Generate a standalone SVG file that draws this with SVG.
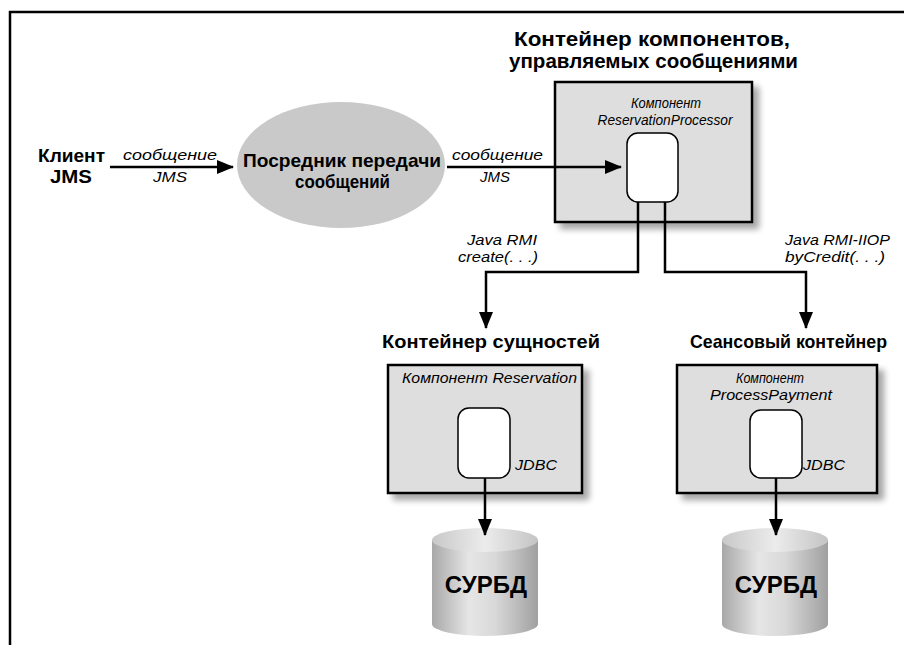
<svg xmlns="http://www.w3.org/2000/svg" width="904" height="645" viewBox="0 0 904 645">
<style>
.b{font-family:"Liberation Sans",Arial,sans-serif;font-weight:bold;font-size:19px;fill:#000}
.h{font-family:"Liberation Sans",Arial,sans-serif;font-weight:bold;font-size:20px;fill:#000}
.i{font-family:"Liberation Sans",Arial,sans-serif;font-style:italic;font-size:15px;fill:#000}
.db{font-family:"Liberation Sans",Arial,sans-serif;font-weight:bold;font-size:24px;fill:#000}
.box{fill:#dedede;stroke:#000;stroke-width:2.5}
.inner{fill:#fff;stroke:#000;stroke-width:1.5}
.ln{fill:none;stroke:#000;stroke-width:2.5}
.cyl{fill:url(#cg)}
.cyltop{fill:url(#ct)}
</style>
<defs>
<marker id="ah" markerUnits="userSpaceOnUse" markerWidth="17" markerHeight="14" refX="16" refY="7" orient="auto">
<path d="M0,0 L17,7 L0,14 z" fill="#000"/>
</marker>
<filter id="sh" x="-10%" y="-10%" width="130%" height="130%">
<feGaussianBlur in="SourceAlpha" stdDeviation="3"/>
<feOffset dx="6" dy="6" result="o"/>
<feComponentTransfer><feFuncA type="linear" slope="0.35"/></feComponentTransfer>
<feMerge><feMergeNode/><feMergeNode in="SourceGraphic"/></feMerge>
</filter>
<linearGradient id="cg" x1="0" y1="0" x2="1" y2="0">
<stop offset="0" stop-color="#a8a8a8"/>
<stop offset="0.35" stop-color="#e6e6e6"/>
<stop offset="0.6" stop-color="#d8d8d8"/>
<stop offset="1" stop-color="#a0a0a0"/>
</linearGradient>
<linearGradient id="ct" x1="0" y1="0" x2="1" y2="0">
<stop offset="0" stop-color="#c8c8c8"/>
<stop offset="0.5" stop-color="#ececec"/>
<stop offset="1" stop-color="#c4c4c4"/>
</linearGradient>
</defs>
<rect width="904" height="645" fill="#fff"/>
<g id="frame"><path d="M10,645 V12 H904" fill="none" stroke="#000" stroke-width="2.5"/></g>

<g id="client">
<text class="b" x="38" y="162" textLength="67" lengthAdjust="spacingAndGlyphs">Клиент</text>
<text class="b" x="50" y="183" textLength="42" lengthAdjust="spacingAndGlyphs">JMS</text>
</g>

<g id="broker">
<ellipse cx="341" cy="165" rx="104" ry="63" fill="#c9c9c9"/>
<text class="b" x="243" y="167" textLength="198" lengthAdjust="spacingAndGlyphs">Посредник передачи</text>
<text class="b" x="295" y="188" textLength="95" lengthAdjust="spacingAndGlyphs">сообщений</text>
</g>

<g id="mdb-container">
<text class="h" x="514" y="46" textLength="276" lengthAdjust="spacingAndGlyphs">Контейнер компонентов,</text>
<text class="h" x="509" y="68" textLength="289" lengthAdjust="spacingAndGlyphs">управляемых сообщениями</text>
<rect class="box" x="555" y="82" width="197" height="140" filter="url(#sh)"/>
<text class="i" x="666" y="108" text-anchor="middle" textLength="70" lengthAdjust="spacingAndGlyphs">Компонент</text>
<text class="i" x="665" y="125" text-anchor="middle" textLength="135" lengthAdjust="spacingAndGlyphs">ReservationProcessor</text>
<rect class="inner" x="627" y="133" width="51" height="69" rx="11"/>
</g>

<g id="entity-container">
<text class="b" x="382" y="348" textLength="218" lengthAdjust="spacingAndGlyphs">Контейнер сущностей</text>
<rect class="box" x="388" y="365" width="194" height="128" filter="url(#sh)"/>
<text class="i" x="402" y="383" textLength="175" lengthAdjust="spacingAndGlyphs">Компонент Reservation</text>
<rect class="inner" x="458" y="408" width="52" height="70" rx="11"/>
<text class="i" x="515" y="470" textLength="42" lengthAdjust="spacingAndGlyphs">JDBC</text>
</g>

<g id="session-container">
<text class="b" x="690" y="348" textLength="197" lengthAdjust="spacingAndGlyphs">Сеансовый контейнер</text>
<rect class="box" x="677" y="365" width="200" height="128" filter="url(#sh)"/>
<text class="i" x="770" y="383" text-anchor="middle" textLength="68" lengthAdjust="spacingAndGlyphs">Компонент</text>
<text class="i" x="771" y="400" text-anchor="middle" textLength="122" lengthAdjust="spacingAndGlyphs">ProcessPayment</text>
<rect class="inner" x="750" y="410" width="52" height="68" rx="11"/>
<text class="i" x="803" y="470" textLength="42" lengthAdjust="spacingAndGlyphs">JDBC</text>
</g>

<g id="db1">
<path class="cyl" d="M432,540 V624 A53,12 0 0 0 538,624 V540 Z"/>
<ellipse class="cyltop" cx="485" cy="540" rx="53" ry="12"/>
<text class="db" x="486" y="593" text-anchor="middle">СУРБД</text>
</g>

<g id="db2">
<path class="cyl" d="M722,540 V624 A53,12 0 0 0 828,624 V540 Z"/>
<ellipse class="cyltop" cx="775" cy="540" rx="53" ry="12"/>
<text class="db" x="776" y="593" text-anchor="middle">СУРБД</text>
</g>

<g id="connectors">
<path class="ln" d="M110,167 H233" marker-end="url(#ah)"/>
<text class="i" x="123" y="160" textLength="94" lengthAdjust="spacingAndGlyphs">сообщение</text>
<text class="i" x="153" y="182" textLength="34" lengthAdjust="spacingAndGlyphs">JMS</text>
<path class="ln" d="M447,167 H621" marker-end="url(#ah)"/>
<text class="i" x="452" y="160" textLength="91" lengthAdjust="spacingAndGlyphs">сообщение</text>
<text class="i" x="480" y="182" textLength="30" lengthAdjust="spacingAndGlyphs">JMS</text>
<path class="ln" d="M638,202 V272 H486 V328" marker-end="url(#ah)"/>
<text class="i" x="537" y="245" text-anchor="end" textLength="70" lengthAdjust="spacingAndGlyphs">Java RMI</text>
<text class="i" x="458" y="262" textLength="80" lengthAdjust="spacingAndGlyphs">create(. . .)</text>
<path class="ln" d="M665,202 V272 H806 V328" marker-end="url(#ah)"/>
<text class="i" x="785" y="245" textLength="105" lengthAdjust="spacingAndGlyphs">Java RMI-IIOP</text>
<text class="i" x="785" y="262" textLength="100" lengthAdjust="spacingAndGlyphs">byCredit(. . .)</text>
<path class="ln" d="M485,478 V535" marker-end="url(#ah)"/>
<path class="ln" d="M776,478 V535" marker-end="url(#ah)"/>
</g>
</svg>
